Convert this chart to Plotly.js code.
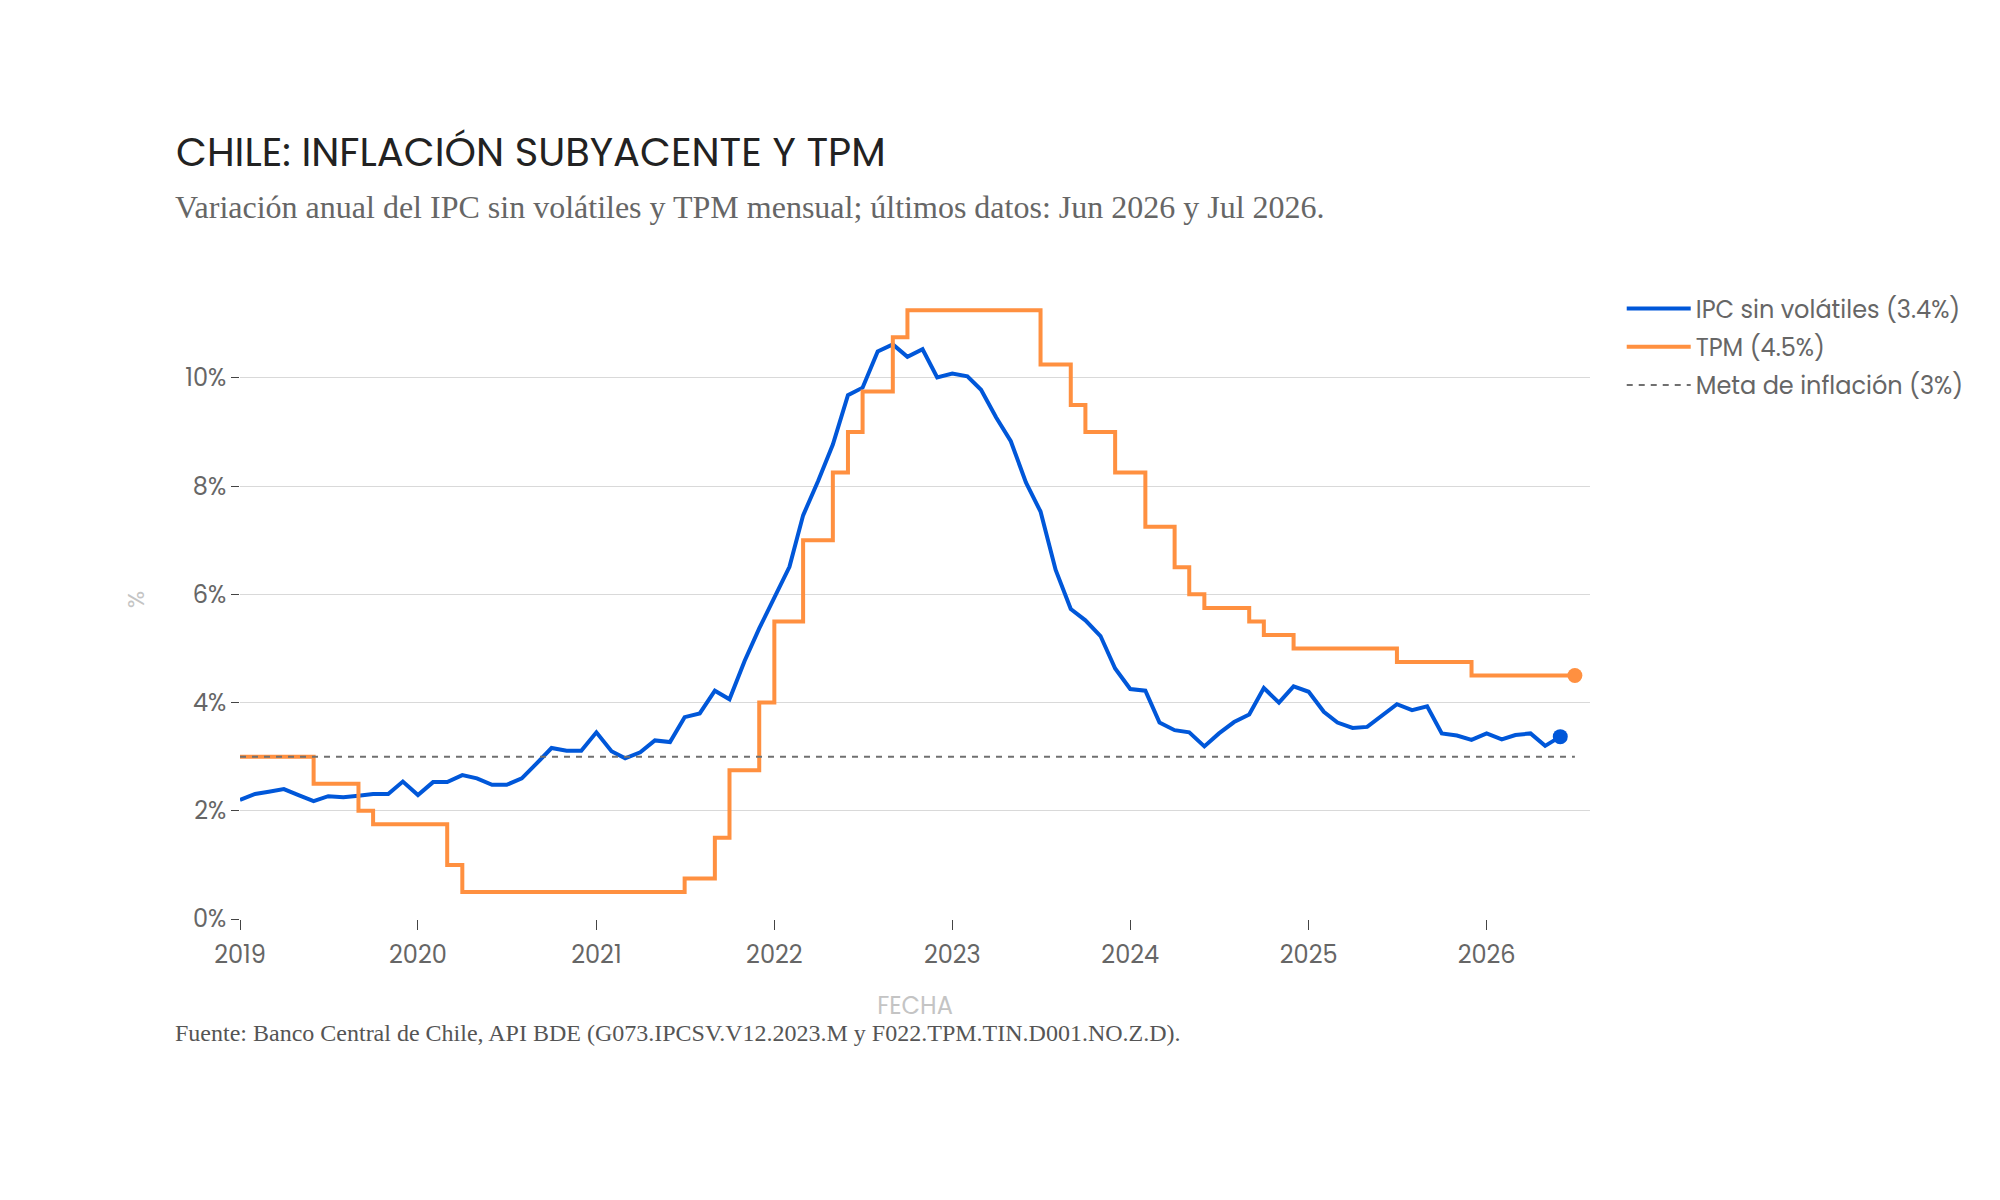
<!DOCTYPE html>
<html>
<head>
<meta charset="utf-8">
<script src="https://cdn.plot.ly/plotly-3.0.1.min.js"></script>
<style>
  html, body { margin: 0; padding: 0; background: #fff; }
  #chart { width: 2000px; height: 1200px; }
</style>
</head>
<body>
<div id="chart"></div>
<script>
// monthly dates, IPC sin volátiles ends Jun 2026, TPM ends Jul 2026
const months = [
    '2019-01-01','2019-02-01','2019-03-01','2019-04-01','2019-05-01','2019-06-01','2019-07-01','2019-08-01','2019-09-01','2019-10-01','2019-11-01','2019-12-01',
    '2020-01-01','2020-02-01','2020-03-01','2020-04-01','2020-05-01','2020-06-01','2020-07-01','2020-08-01','2020-09-01','2020-10-01','2020-11-01','2020-12-01',
    '2021-01-01','2021-02-01','2021-03-01','2021-04-01','2021-05-01','2021-06-01','2021-07-01','2021-08-01','2021-09-01','2021-10-01','2021-11-01','2021-12-01',
    '2022-01-01','2022-02-01','2022-03-01','2022-04-01','2022-05-01','2022-06-01','2022-07-01','2022-08-01','2022-09-01','2022-10-01','2022-11-01','2022-12-01',
    '2023-01-01','2023-02-01','2023-03-01','2023-04-01','2023-05-01','2023-06-01','2023-07-01','2023-08-01','2023-09-01','2023-10-01','2023-11-01','2023-12-01',
    '2024-01-01','2024-02-01','2024-03-01','2024-04-01','2024-05-01','2024-06-01','2024-07-01','2024-08-01','2024-09-01','2024-10-01','2024-11-01','2024-12-01',
    '2025-01-01','2025-02-01','2025-03-01','2025-04-01','2025-05-01','2025-06-01','2025-07-01','2025-08-01','2025-09-01','2025-10-01','2025-11-01','2025-12-01',
    '2026-01-01','2026-02-01','2026-03-01','2026-04-01','2026-05-01','2026-06-01','2026-07-01'
]

const ipcValues = [
    2.20, 2.31, 2.35, 2.40, 2.29, 2.18, 2.27, 2.25, 2.28, 2.31, 2.31, 2.54,
    2.29, 2.53, 2.53, 2.66, 2.60, 2.48, 2.48, 2.60, 2.88, 3.16, 3.11, 3.11,
    3.45, 3.10, 2.97, 3.08, 3.30, 3.27, 3.73, 3.80, 4.22, 4.06, 4.77, 5.37,
    5.94, 6.51, 7.46, 8.10, 8.77, 9.68, 9.82, 10.49, 10.62, 10.39, 10.53, 10.01,
    10.08, 10.03, 9.78, 9.27, 8.83, 8.07, 7.53, 6.45, 5.73, 5.52, 5.23, 4.63,
    4.25, 4.22, 3.63, 3.49, 3.45, 3.19, 3.43, 3.64, 3.78, 4.27, 4.00, 4.30,
    4.20, 3.83, 3.63, 3.53, 3.55, 3.77, 3.97, 3.86, 3.93, 3.43, 3.39, 3.31,
    3.43, 3.32, 3.40, 3.43, 3.20, 3.37
]

const tpmValues = [
    3.00, 3.00, 3.00, 3.00, 3.00, 2.50, 2.50, 2.50, 2.00, 1.75, 1.75, 1.75,
    1.75, 1.75, 1.00, 0.50, 0.50, 0.50, 0.50, 0.50, 0.50, 0.50, 0.50, 0.50,
    0.50, 0.50, 0.50, 0.50, 0.50, 0.50, 0.75, 0.75, 1.50, 2.75, 2.75, 4.00,
    5.50, 5.50, 7.00, 7.00, 8.25, 9.00, 9.75, 9.75, 10.75, 11.25, 11.25, 11.25,
    11.25, 11.25, 11.25, 11.25, 11.25, 11.25, 10.25, 10.25, 9.50, 9.00, 9.00, 8.25,
    8.25, 7.25, 7.25, 6.50, 6.00, 5.75, 5.75, 5.75, 5.50, 5.25, 5.25, 5.00,
    5.00, 5.00, 5.00, 5.00, 5.00, 5.00, 4.75, 4.75, 4.75, 4.75, 4.75, 4.50,
    4.50, 4.50, 4.50, 4.50, 4.50, 4.50, 4.50
]

const metaInflacion = 3

const blue = '#0057D9'
const orange = '#FF9040'
const sans = 'Poppins, Inter, sans-serif'
const serif = '"Liberation Serif", "Times New Roman", serif'

const ipcDates = months.slice(0, ipcValues.length)
const tpmDates = months.slice(0, tpmValues.length)
const ipcLast = ipcValues[ipcValues.length - 1]
const tpmLast = tpmValues[tpmValues.length - 1]

const traces = [
    {
        x: ipcDates,
        y: ipcValues,
        mode: 'lines',
        name: `IPC sin volátiles (${ipcLast.toFixed(1)}%)`,
        legendgroup: 'ipc',
        line: { color: blue, width: 4 }
    },
    {
        x: tpmDates,
        y: tpmValues,
        mode: 'lines',
        name: `TPM (${tpmLast.toFixed(1)}%)`,
        legendgroup: 'tpm',
        line: { color: orange, width: 4, shape: 'hv' }
    },
    {
        x: [tpmDates[0], tpmDates[tpmDates.length - 1]],
        y: [metaInflacion, metaInflacion],
        mode: 'lines',
        name: `Meta de inflación (${metaInflacion}%)`,
        legendgroup: 'meta',
        line: { color: '#707070', width: 2, dash: '6px,6px' }
    },
    // end markers
    {
        x: [ipcDates[ipcDates.length - 1]],
        y: [ipcLast],
        mode: 'markers',
        marker: { color: blue, size: 15 },
        showlegend: false,
        hoverinfo: 'skip'
    },
    {
        x: [tpmDates[tpmDates.length - 1]],
        y: [tpmLast],
        mode: 'markers',
        marker: { color: orange, size: 15 },
        showlegend: false,
        hoverinfo: 'skip'
    }
]

const layout = {
    width: 2000,
    height: 1200,
    margin: { l: 240, r: 410, t: 280, b: 281 },
    paper_bgcolor: '#ffffff',
    plot_bgcolor: '#ffffff',
    font: { family: sans, size: 24, color: '#666666' },
    title: {
        text: 'CHILE: INFLACIÓN SUBYACENTE Y TPM',
        font: { family: sans, size: 40, color: '#222222' },
        xref: 'container',
        x: 0.088,
        xanchor: 'left',
        yref: 'container',
        y: 0.873,
        yanchor: 'middle'
    },
    xaxis: {
        type: 'date',
        range: ['2019-01-01', '2026-08-01'],
        dtick: 'M12',
        tick0: '2019-01-01',
        tickformat: '%Y',
        ticks: 'outside',
        ticklen: 10,
        tickcolor: '#444444',
        ticklabelstandoff: 4,
        showgrid: false,
        zeroline: false,
        showline: false,
        tickfont: { size: 24, color: '#666666' },
        title: {
            text: 'FECHA',
            font: { size: 24, color: '#c4c4c4' },
            standoff: 27
        }
    },
    yaxis: {
        range: [0, 11.81],
        tickmode: 'linear',
        tick0: 0,
        dtick: 2,
        ticksuffix: '%',
        ticks: 'outside',
        ticklen: 8,
        tickcolor: '#444444',
        showgrid: true,
        gridcolor: '#d9d9d9',
        gridwidth: 1,
        zeroline: false,
        showline: false,
        tickfont: { size: 24, color: '#666666' },
        title: {
            text: '%',
            font: { size: 23, color: '#c4c4c4' },
            standoff: 34
        }
    },
    legend: {
        x: 1.0235,
        xanchor: 'left',
        y: 0.99,
        yanchor: 'top',
        font: { size: 24, color: '#666666' },
        itemwidth: 64,
        traceorder: 'grouped',
        tracegroupgap: 4
    },
    annotations: [
        {
            text: 'Variación anual del IPC sin volátiles y TPM mensual; últimos datos: Jun 2026 y Jul 2026.',
            xref: 'paper', yref: 'paper',
            x: -0.0496, xanchor: 'left',
            y: 1.114, yanchor: 'middle',
            showarrow: false,
            font: { family: serif, size: 32, color: '#666666' }
        },
        {
            text: 'Fuente: Banco Central de Chile, API BDE (G073.IPCSV.V12.2023.M y F022.TPM.TIN.D001.NO.Z.D).',
            xref: 'paper', yref: 'paper',
            x: -0.0496, xanchor: 'left',
            y: -0.178, yanchor: 'middle',
            showarrow: false,
            font: { family: serif, size: 24, color: '#555555' }
        }
    ],
    showlegend: true
}

Plotly.newPlot('chart', traces, layout, { displayModeBar: false, responsive: false })
</script>
</body>
</html>
